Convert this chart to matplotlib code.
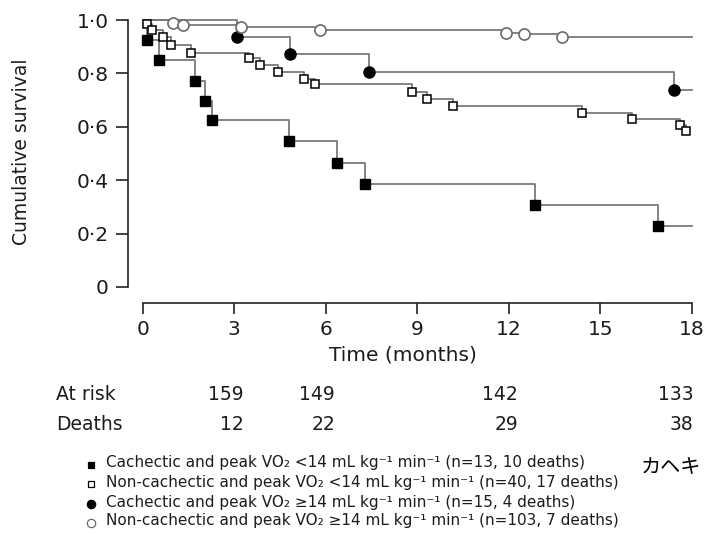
import matplotlib
matplotlib.use("Agg")
import matplotlib.pyplot as plt
from matplotlib.lines import Line2D
from matplotlib.transforms import blended_transform_factory

# death times (months) and survival after each death
cach_low_t = [0.13, 0.53, 1.72, 2.04, 2.28, 4.81, 6.38, 7.29, 12.86, 16.9]
cach_low_s = [0.925, 0.850, 0.772, 0.697, 0.625, 0.545, 0.463, 0.385, 0.308, 0.228]

noncach_low_t = [0.13, 0.31, 0.68, 0.93, 1.58, 3.49, 3.85, 4.45, 5.27, 5.65,
                 8.82, 9.31, 10.18, 14.39, 16.05, 17.62, 17.8]
noncach_low_s = [0.985, 0.963, 0.935, 0.908, 0.878, 0.857, 0.832, 0.807, 0.778, 0.760,
                 0.732, 0.705, 0.677, 0.653, 0.630, 0.607, 0.585]

cach_high_t = [3.08, 4.83, 7.42, 17.4]
cach_high_s = [0.938, 0.872, 0.807, 0.737]

noncach_high_t = [1.0, 1.33, 3.22, 5.81, 11.91, 12.48, 13.74]
noncach_high_s = [0.99, 0.98, 0.975, 0.963, 0.950, 0.946, 0.935]

curve_end = [18, 17.8, 18, 18]

yticks = [0, 0.2, 0.4, 0.6, 0.8, 1.0]
ytick_labels = ["0", "0\u00b72", "0\u00b74", "0\u00b76", "0\u00b78", "1\u00b70"]
xticks = [0, 3, 6, 9, 12, 15, 18]

risk_times = [3, 6, 12, 18]
at_risk = [159, 149, 142, 133]
deaths = [12, 22, 29, 38]

legend_labels = [
    "Cachectic and peak VO\u2082 <14 mL kg\u207b\u00b9 min\u207b\u00b9 (n=13, 10 deaths)",
    "Non-cachectic and peak VO\u2082 <14 mL kg\u207b\u00b9 min\u207b\u00b9 (n=40, 17 deaths)",
    "Cachectic and peak VO\u2082 \u226514 mL kg\u207b\u00b9 min\u207b\u00b9 (n=15, 4 deaths)",
    "Non-cachectic and peak VO\u2082 \u226514 mL kg\u207b\u00b9 min\u207b\u00b9 (n=103, 7 deaths)",
]

plt.rcParams['font.family'] = ['DejaVu Sans']

W, H = 705, 535
TXT = '#1c1c1c'
LINE = '#7a7a7a'

def fx(x):
    return x / W

def fy(y):
    return 1 - y / H

fig = plt.figure(figsize=(7.05, 5.35), dpi=100)
ax = fig.add_axes([fx(142.7), fy(287), (692 - 142.7) / W, (287 - 20) / H])
ax.set_xlim(0, 18)
ax.set_ylim(0, 1)

styles = [
    dict(marker='s', ms=7, mfc='black', mec='black', mew=1),
    dict(marker='s', ms=6, mfc='white', mec='black', mew=1.1),
    dict(marker='o', ms=8, mfc='black', mec='black', mew=1),
    dict(marker='o', ms=8, mfc='white', mec='#6a6a6a', mew=1.2),
]
groups = [(cach_low_t, cach_low_s), (noncach_low_t, noncach_low_s),
          (cach_high_t, cach_high_s), (noncach_high_t, noncach_high_s)]

for (t, s), end, st in zip(groups, curve_end, styles):
    xs = [0] + t + [end]
    ys = [1.0] + s + [s[-1]]
    ax.step(xs, ys, where='post', color=LINE, lw=1.3, clip_on=False, zorder=2)
    ax.plot(t, s, linestyle='none', clip_on=False, zorder=3, **st)

for side in ['top', 'right']:
    ax.spines[side].set_visible(False)
ax.spines['left'].set_position(('outward', 10.8))
ax.spines['bottom'].set_position(('outward', 11.3))
ax.spines['left'].set_bounds(0, 1)
ax.spines['bottom'].set_bounds(0, 18)
for side in ['left', 'bottom']:
    ax.spines[side].set_linewidth(1.2)
    ax.spines[side].set_color('#222222')

ax.set_yticks(yticks)
ax.set_yticklabels(ytick_labels)
ax.set_xticks(xticks)
ax.tick_params(axis='y', length=8.6, width=1.2, colors='#222222', labelsize=14.5, pad=5)
ax.tick_params(axis='x', length=7.7, width=1.2, colors='#222222', labelsize=14.5, pad=5)
for lab in ax.get_xticklabels() + ax.get_yticklabels():
    lab.set_color(TXT)

fig.text(fx(22), fy(152), "Cumulative survival", rotation=90, ha='center', va='center',
         fontsize=13.5, color=TXT)
fig.text(fx(403), fy(355), "Time (months)", ha='center', va='center', fontsize=14.5, color=TXT)

# at-risk table
tr = blended_transform_factory(ax.transData, fig.transFigure)
fig.text(fx(56), fy(395), "At risk", ha='left', va='center', fontsize=13.5, color=TXT)
fig.text(fx(56), fy(424), "Deaths", ha='left', va='center', fontsize=13.5, color=TXT)
for t, n, d in zip(risk_times, at_risk, deaths):
    xpos = min(t + 0.3, 18.05)
    ax.text(xpos, fy(395), str(n), transform=tr, ha='right', va='center', fontsize=13.5, color=TXT)
    ax.text(xpos, fy(424), str(d), transform=tr, ha='right', va='center', fontsize=13.5, color=TXT)

# legend
rows_y = [463, 482, 502, 521]
leg_ms = [5, 5, 6, 6]
for lab, st, yy, ms in zip(legend_labels, styles, rows_y, leg_ms):
    kw = dict(st)
    kw['ms'] = ms
    kw['mew'] = 0.9
    fig.add_artist(Line2D([fx(91)], [fy(yy + 2)], transform=fig.transFigure,
                          linestyle='none', **kw))
    fig.text(fx(106), fy(yy), lab, ha='left', va='center', fontsize=11, color=TXT)

fig.text(fx(641), fy(468), "カヘキ", ha='left', va='center', fontsize=14.5,
         family=['Noto Sans CJK JP', 'DejaVu Sans'], color='black')

fig.savefig("out.png", dpi=100)
